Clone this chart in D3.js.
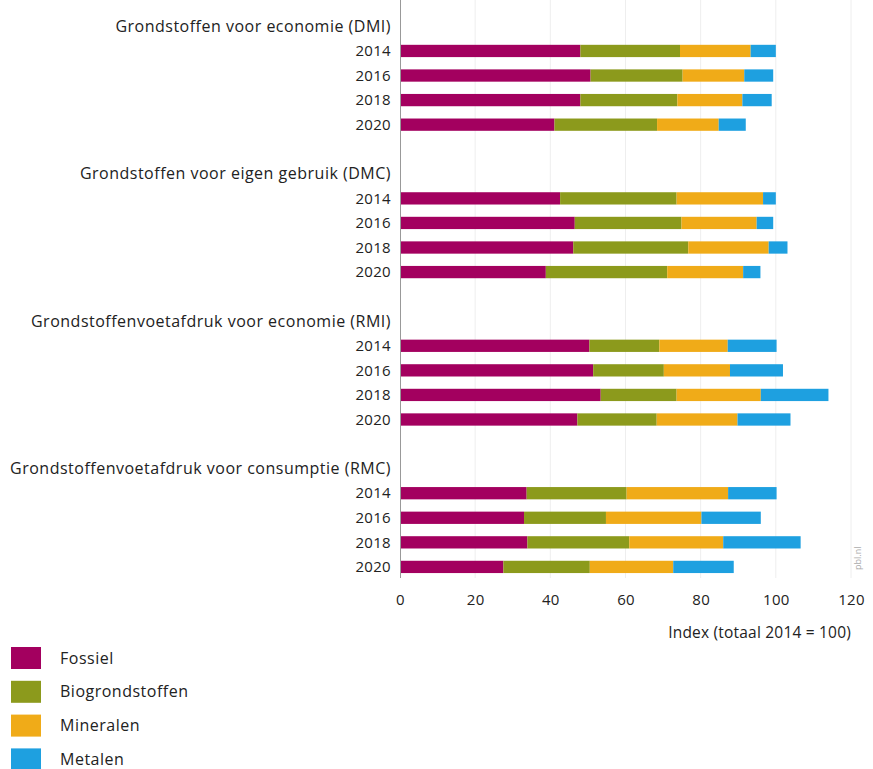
<!DOCTYPE html>
<html><head><meta charset="utf-8">
<script src="https://cdn.jsdelivr.net/npm/d3@7"></script>
<style>
body{margin:0;background:#fff;}
text{font-family:"Open Sans",Lato,sans-serif;fill:#222;}
</style></head>
<body><svg id="c" width="873" height="769"></svg>
<script>
const groups = ["Grondstoffen voor economie (DMI)","Grondstoffen voor eigen gebruik (DMC)","Grondstoffenvoetafdruk voor economie (RMI)","Grondstoffenvoetafdruk voor consumptie (RMC)"];
const years = ["2014","2016","2018","2020"];
const seriesNames = ["Fossiel","Biogrondstoffen","Mineralen","Metalen"];
const colors = ["#a3005f","#8c9a1c","#f0ab18","#1ea0e0"];
// per group, per year: segment values [Fossiel, Bio, Mineralen, Metalen]
const fossiel = [[48.0,50.7,48.0,41.1],[42.6,46.5,46.1,38.8],[50.4,51.4,53.4,47.2],[33.7,33.0,33.9,27.5]];
const bio     = [[26.5,24.5,25.8,27.3],[31.0,28.4,30.6,32.3],[18.6,18.8,20.2,21.1],[26.6,21.8,27.1,23.0]];
const mineral = [[18.8,16.4,17.3,16.4],[23.0,20.0,21.4,20.2],[18.2,17.6,22.4,21.5],[27.0,25.4,25.0,22.2]];
const metaal  = [[6.7,7.7,7.8,7.2],[3.4,4.4,5.0,4.6],[13.0,14.1,18.0,14.1],[12.9,15.8,20.6,16.1]];
const xTicks = [0,20,40,60,80,100,120];
const xLabel = "Index (totaal 2014 = 100)";

const svg = d3.select("#c");
const rows = [];
groups.forEach((g,gi)=>{
  rows.push({key:"t"+gi,type:"title",label:g});
  years.forEach((y,yi)=>rows.push({key:g+y,type:"bar",label:y,gi,yi}));
  if(gi<groups.length-1) rows.push({key:"s"+gi,type:"spacer"});
});
const x = d3.scaleLinear().domain([0,120]).range([400,851]);
const y = d3.scaleBand().domain(rows.map(r=>r.key)).range([14.1,579.2]).paddingInner(0.5).paddingOuter(0.25);
const color = d3.scaleOrdinal().domain(seriesNames).range(colors);

// gridlines
svg.append("g").selectAll("line").data(xTicks.slice(1)).join("line")
  .attr("x1",d=>x(d)).attr("x2",d=>x(d)).attr("y1",0).attr("y2",578)
  .attr("stroke","#eeeeee").attr("stroke-width",1);

const barRows = rows.filter(r=>r.type==="bar").map(r=>{
  const vals=[fossiel[r.gi][r.yi],bio[r.gi][r.yi],mineral[r.gi][r.yi],metaal[r.gi][r.yi]];
  const o={key:r.key}; seriesNames.forEach((s,i)=>o[s]=vals[i]); return o;
});
const stack = d3.stack().keys(seriesNames)(barRows);
svg.append("g").selectAll("g").data(stack).join("g").attr("fill",d=>color(d.key))
  .selectAll("rect").data(d=>d).join("rect")
  .attr("x",d=>x(d[0])).attr("width",d=>x(d[1])-x(d[0]))
  .attr("y",d=>y(d.data.key)).attr("height",y.bandwidth());

// axis line
svg.append("line").attr("x1",400.5).attr("x2",400.5).attr("y1",0).attr("y2",578)
  .attr("stroke","#999").attr("stroke-width",1);

// row labels
svg.append("g").selectAll("text").data(rows.filter(r=>r.type!=="spacer")).join("text")
  .attr("x",391).attr("y",d=>y(d.key)+y.bandwidth()/2).attr("dy","0.35em")
  .attr("text-anchor","end")
  .style("font-size",d=>d.type==="title"?"16px":"15px")
  .style("letter-spacing",d=>d.type==="title"?"0.5px":"0.3px")
  .text(d=>d.label);

// x axis
const ax = svg.append("g").attr("transform","translate(0,588)")
  .call(d3.axisBottom(x).tickValues(xTicks).tickSize(0).tickPadding(6));
ax.select(".domain").remove();
ax.selectAll("text").style("font-size","15px").style("font-family","'Open Sans',Lato,sans-serif").style("letter-spacing","0.3px").attr("fill","#222");
svg.append("text").attr("x",851).attr("y",638).attr("text-anchor","end").style("font-size","15.5px").style("letter-spacing","0.2px").text(xLabel);

// legend
const lg = svg.append("g").selectAll("g").data(seriesNames).join("g")
  .attr("transform",(d,i)=>`translate(11,${647+i*33.8})`);
lg.append("rect").attr("width",30).attr("height",22).attr("fill",d=>color(d));
lg.append("text").attr("x",49).attr("y",11).attr("dy","0.35em").style("font-size","16px").style("letter-spacing","0.5px").text(d=>d);

// source
svg.append("text").attr("transform","translate(861,570) rotate(-90)").style("font-size","9px").style("fill","#aaa").text("pbl.nl");
</script></body></html>
